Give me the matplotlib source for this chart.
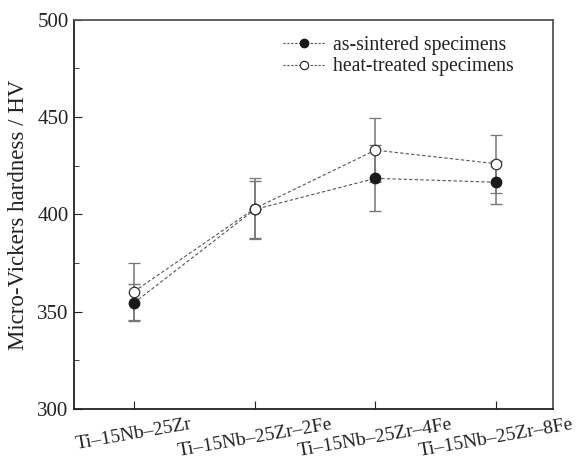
import matplotlib
matplotlib.use('Agg')
import matplotlib.pyplot as plt
from matplotlib.ticker import MultipleLocator
from matplotlib.lines import Line2D

plt.rcParams['font.family'] = ['Liberation Serif', 'DejaVu Serif']

alloys = ['Ti–15Nb–25Zr', 'Ti–15Nb–25Zr–2Fe', 'Ti–15Nb–25Zr–4Fe', 'Ti–15Nb–25Zr–8Fe']
sintered = [354.5, 402.5, 418.5, 416.5]
sintered_err = [9.5, 14.5, 17.0, 11.0]
treated = [360.3, 403.0, 433.0, 426.0]
treated_err = [14.5, 15.5, 16.5, 15.0]

x = list(range(len(alloys)))

fig = plt.figure(figsize=(5.79, 4.59), dpi=100)
ax = fig.add_axes([0.127, 0.109, 0.828, 0.848])

ax.errorbar(x, sintered, yerr=sintered_err, fmt='o', ls=(0, (3, 2)), lw=0.8,
            color='#555555', mfc='#1a1a1a', mec='#1a1a1a', ms=7.5,
            ecolor='#777777', elinewidth=1.1, capsize=4, capthick=1.0, zorder=3)
ax.errorbar(x, treated, yerr=treated_err, fmt='o', ls=(0, (3, 2)), lw=0.8,
            color='#555555', mfc='white', mec='#333333', mew=0.9, ms=7.5,
            ecolor='#777777', elinewidth=1.1, capsize=4, capthick=1.0, zorder=3)

ax.set_xlim(-0.5, 3.47)
ax.set_ylim(300, 500)
ax.set_xticks(x)
ax.set_xticklabels(alloys, rotation=10, fontsize=14, ha='center')
ax.yaxis.set_major_locator(MultipleLocator(50))
ax.yaxis.set_minor_locator(MultipleLocator(25))
ax.tick_params(axis='both', which='both', direction='in', top=False, right=False,
               colors='#222222')
ax.tick_params(axis='y', which='major', length=6, labelsize=15)
ax.tick_params(axis='y', which='minor', length=3.5)
ax.tick_params(axis='x', which='major', length=6, pad=5)
ax.set_ylabel('Micro-Vickers hardness / HV', fontsize=16.5, color='#222222', labelpad=6)

for s in ['left', 'bottom']:
    ax.spines[s].set_color('#222222')
for s in ['top', 'right']:
    ax.spines[s].set_color('#555555')
for s in ax.spines.values():
    s.set_linewidth(1.3)

handles = [
    Line2D([], [], ls=(0, (2, 1.5)), lw=0.8, color='#555555', marker='o',
           mfc='#1a1a1a', mec='#1a1a1a', ms=6),
    Line2D([], [], ls=(0, (2, 1.5)), lw=0.8, color='#555555', marker='o',
           mfc='white', mec='#333333', mew=0.9, ms=6),
]
leg = ax.legend(handles, ['as-sintered specimens', 'heat-treated specimens'],
                loc='upper right', bbox_to_anchor=(0.955, 1.005), frameon=False,
                fontsize=14.2, handlelength=2.2, handletextpad=0.35, labelspacing=0.15)
for t in leg.get_texts():
    t.set_color('#222222')

plt.savefig('out.png', dpi=100)
